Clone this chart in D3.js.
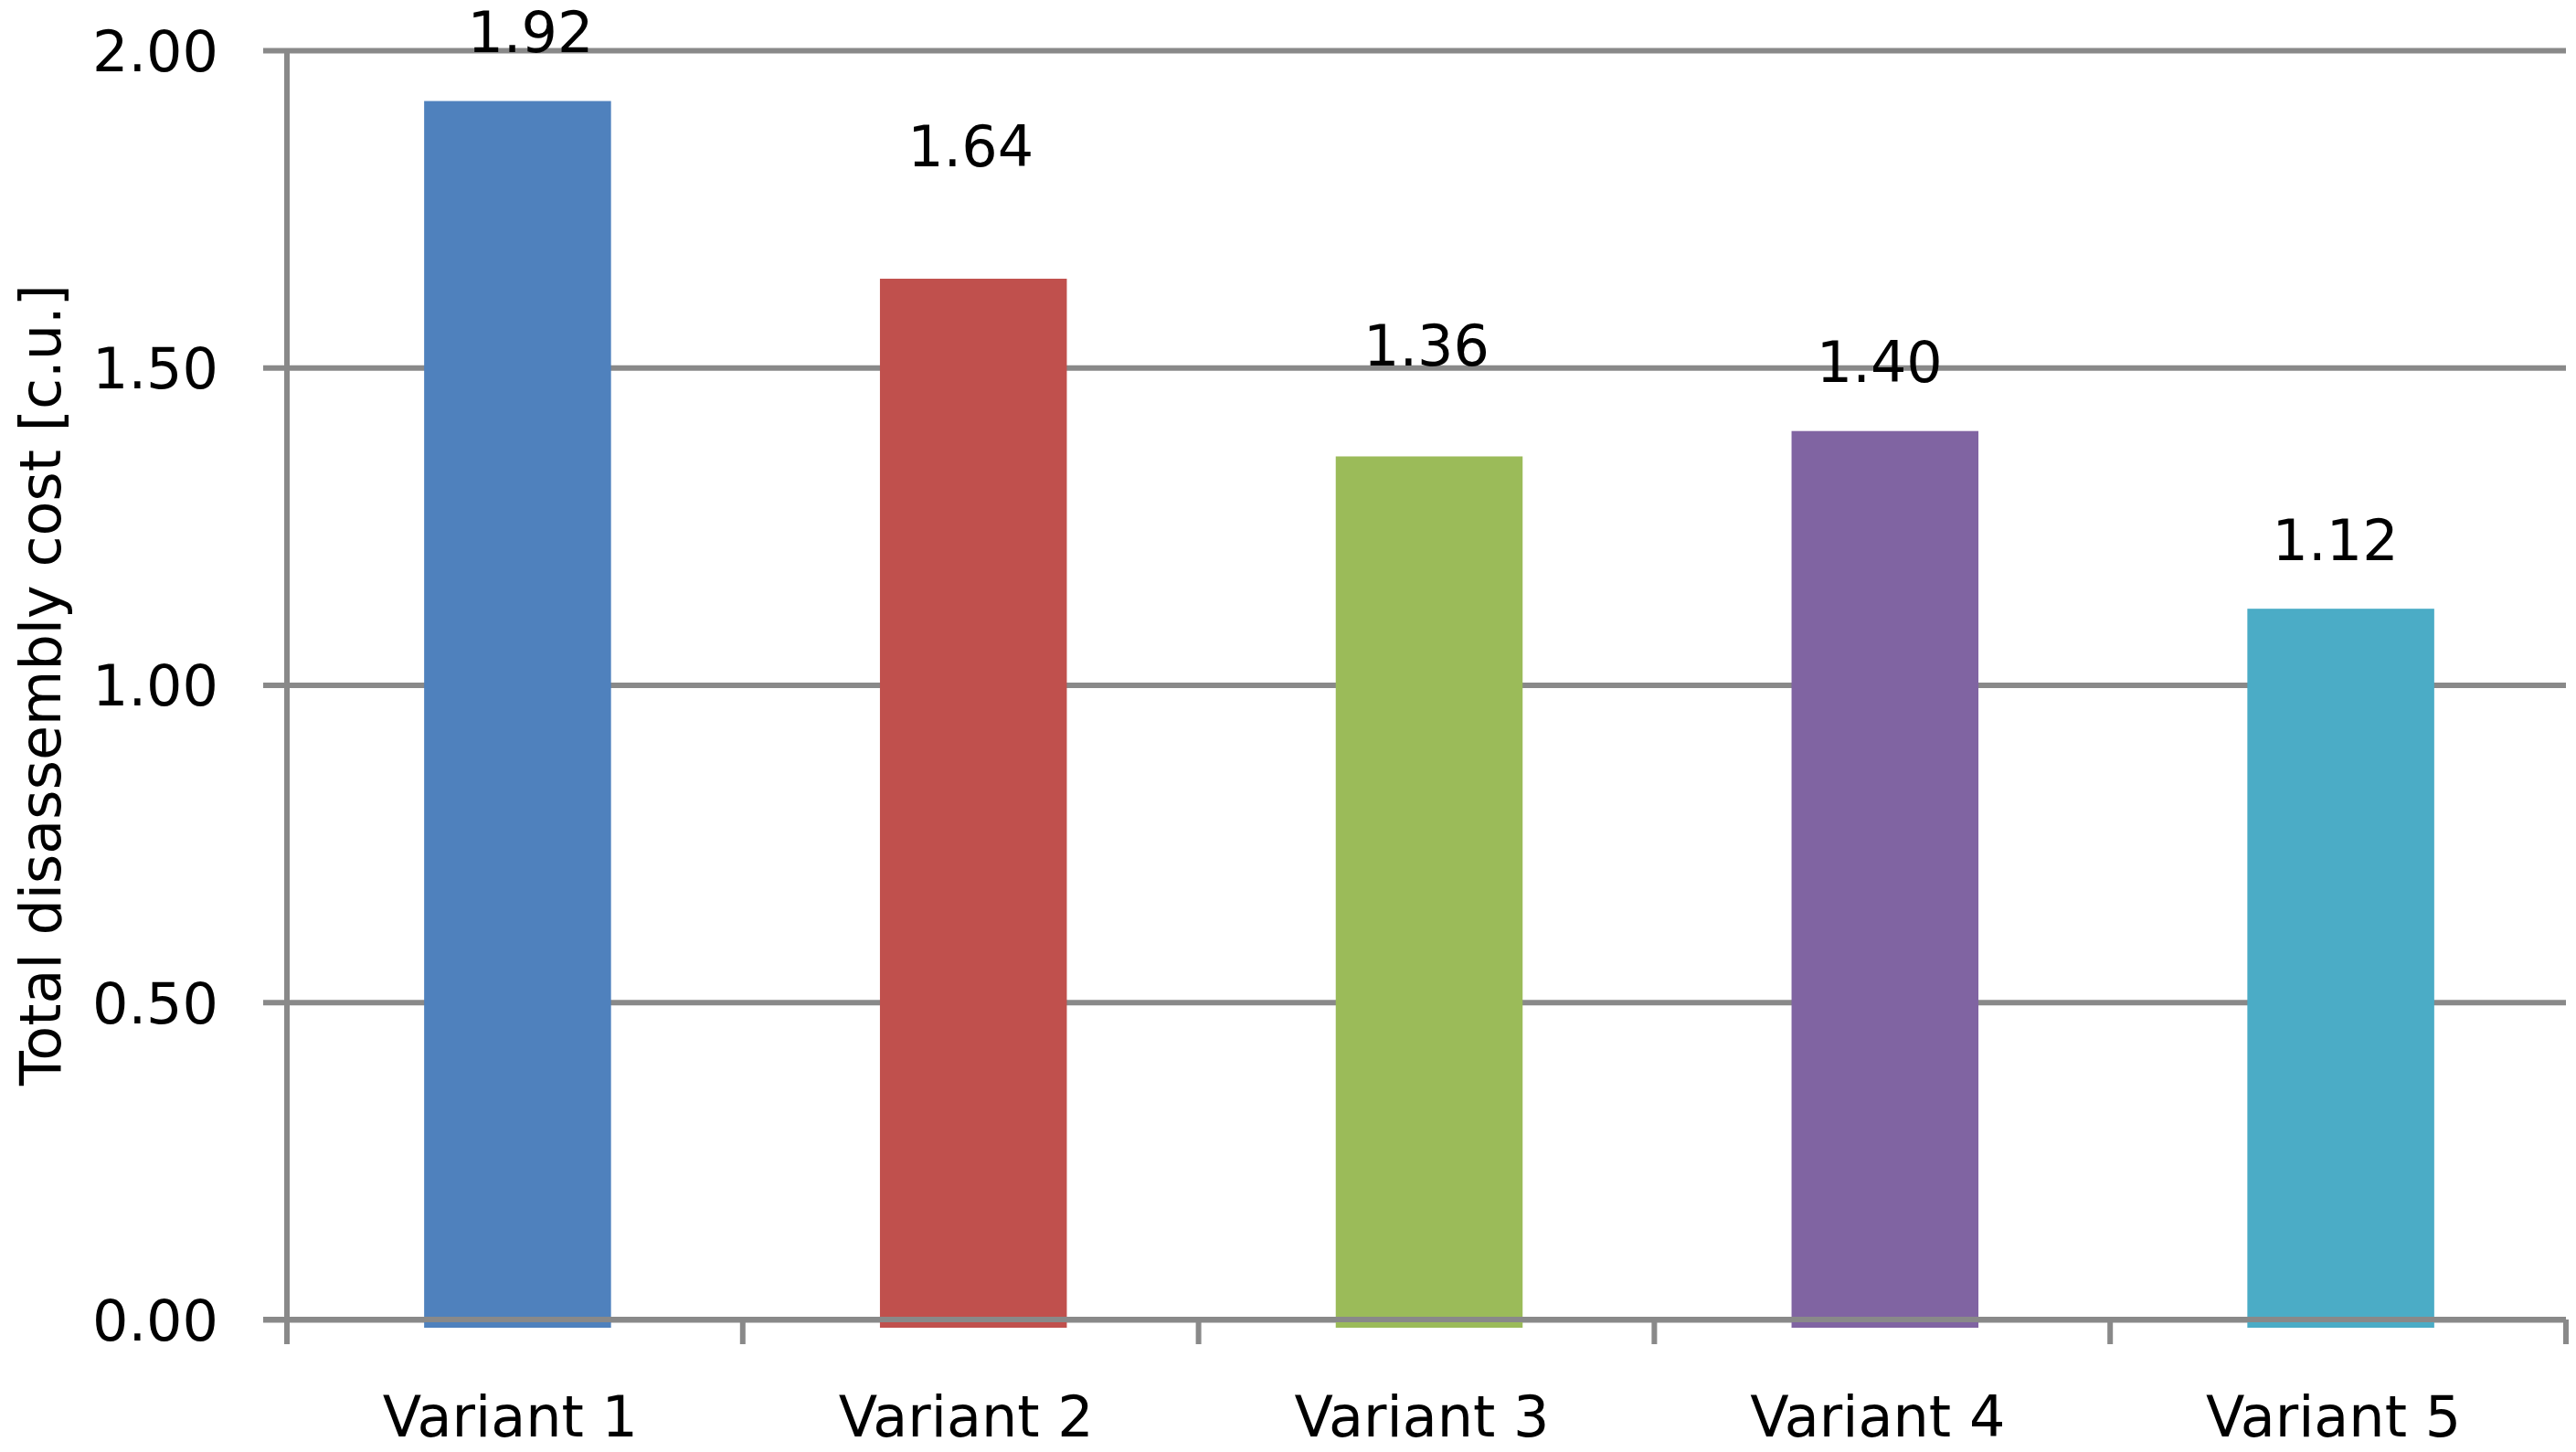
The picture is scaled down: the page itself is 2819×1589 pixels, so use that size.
<!DOCTYPE html>
<html>
<head>
<meta charset="utf-8">
<script src="https://cdn.jsdelivr.net/npm/d3@7"></script>
<style>
  html, body { margin: 0; padding: 0; background: #ffffff; }
  svg { display: block; }
  text { font-family: "DejaVu Sans", Verdana, sans-serif; fill: #000; }
</style>
</head>
<body>
<svg id="chart" width="2819" height="1589"></svg>
<script>
// ---- data ----
const categories = ["Variant 1", "Variant 2", "Variant 3", "Variant 4", "Variant 5"];
const values = [1.92, 1.64, 1.36, 1.40, 1.12];
const valueLabels = ["1.92", "1.64", "1.36", "1.40", "1.12"];
const yTicks = [0, 0.5, 1.0, 1.5, 2.0];
const yTickLabels = ["0.00", "0.50", "1.00", "1.50", "2.00"];
const barColors = ["#4F81BD", "#C0504D", "#9BBB59", "#8064A2", "#4BACC6"];
const yTitle = "Total disassembly cost [c.u.]";

// ---- style / layout ----
const W = 2819, H = 1589;
const plot = { left: 314, right: 2808, top: 55, bottom: 1444 };
const gridColor = "#898989";
const lineW = 6;
const tickLen = 26;
const fontSize = 62;
const barFrac = 0.41;
const barDrop = 9;                       // bars extend slightly below the baseline
const labelLift = [54, 123, 99, 54, 53]; // gap between bar top and label baseline (as in reference)
const labelShift = [17, 0, 0, -3, -3];

const svg = d3.select("#chart");
svg.append("rect").attr("width", W).attr("height", H).attr("fill", "#fff");

const x = d3.scaleBand().domain(categories).range([plot.left, plot.right]).padding(0);
const y = d3.scaleLinear().domain([0, 2]).range([plot.bottom, plot.top]);

// gridlines (with outward tick)
const yAxis = d3.axisLeft(y)
  .tickValues(yTicks)
  .tickFormat((d, i) => yTickLabels[i])
  .tickSize(-(plot.right - plot.left))
  .tickSizeOuter(0)
  .tickPadding(0);

const gy = svg.append("g").attr("transform", `translate(${plot.left},0)`).call(yAxis);
gy.select(".domain").remove();
gy.selectAll(".tick line")
  .attr("x1", -tickLen)
  .attr("x2", plot.right - plot.left)
  .attr("stroke", gridColor)
  .attr("stroke-width", lineW);
gy.selectAll(".tick text")
  .attr("x", -75)
  .attr("dy", "0.36em")
  .style("font-family", '"DejaVu Sans", Verdana, sans-serif')
  .style("font-size", fontSize + "px")
  .attr("fill", "#000");

// bars
const bw = x.bandwidth() * barFrac;
svg.append("g").selectAll("rect.bar")
  .data(values)
  .join("rect")
  .attr("class", "bar")
  .attr("x", (d, i) => x(categories[i]) + x.bandwidth() / 2 - bw / 2 + 3)
  .attr("width", bw)
  .attr("y", d => y(d))
  .attr("height", d => y(0) - y(d) + barDrop)
  .attr("fill", (d, i) => barColors[i]);

// baseline gridline on top of bars (as in reference)
svg.append("line")
  .attr("x1", plot.left - tickLen).attr("x2", plot.right)
  .attr("y1", y(0)).attr("y2", y(0))
  .attr("stroke", gridColor).attr("stroke-width", lineW);

// y axis line
svg.append("line")
  .attr("x1", plot.left).attr("x2", plot.left)
  .attr("y1", plot.top).attr("y2", y(0) + tickLen + 1)
  .attr("stroke", gridColor).attr("stroke-width", lineW);

// x axis ticks at category boundaries
const bounds = categories.map(c => x(c)).concat([x(categories[categories.length - 1]) + x.bandwidth()]);
svg.append("g").selectAll("line")
  .data(bounds)
  .join("line")
  .attr("x1", d => d).attr("x2", d => d)
  .attr("y1", y(0)).attr("y2", y(0) + tickLen + 1)
  .attr("stroke", gridColor).attr("stroke-width", lineW);

// x labels
svg.append("g").selectAll("text")
  .data(categories)
  .join("text")
  .attr("x", d => x(d) + x.bandwidth() / 2 - 5)
  .attr("y", 1572)
  .attr("text-anchor", "middle")
  .style("font-size", fontSize + "px")
  .text(d => d);

// value labels
svg.append("g").selectAll("text")
  .data(values)
  .join("text")
  .attr("x", (d, i) => x(categories[i]) + x.bandwidth() / 2 + labelShift[i])
  .attr("y", (d, i) => y(d) - labelLift[i])
  .attr("text-anchor", "middle")
  .style("font-size", fontSize + "px")
  .text((d, i) => valueLabels[i]);

// y title
svg.append("text")
  .attr("transform", `translate(66, ${(plot.top + plot.bottom) / 2}) rotate(-90)`)
  .attr("text-anchor", "middle")
  .style("font-size", fontSize + "px")
  .text(yTitle);
</script>
</body>
</html>
